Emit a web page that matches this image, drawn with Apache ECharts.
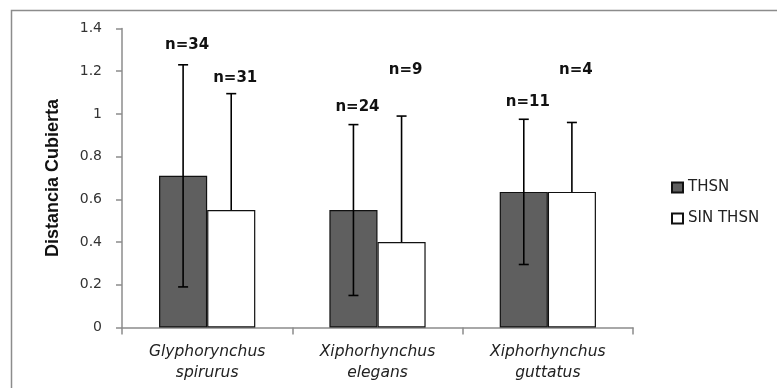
<!DOCTYPE html>
<html>
<head>
<meta charset="utf-8">
<script src="https://cdn.jsdelivr.net/npm/echarts@6/dist/echarts.min.js"></script>
<style>html,body{margin:0;padding:0;background:#fff;}#c{width:777px;height:388px;}</style>
</head>
<body>
<div id="c"></div>
<script>
var categories = ['Glyphorynchus\nspirurus', 'Xiphorhynchus\nelegans', 'Xiphorhynchus\nguttatus'];
var thsn = [0.71, 0.55, 0.635];
var sinThsn = [0.55, 0.40, 0.635];
var thsnErr = [0.52, 0.40, 0.34];
var sinThsnErr = [0.545, 0.59, 0.325];
var thsnN = ['n=34', 'n=24', 'n=11'];
var sinThsnN = ['n=31', 'n=9', 'n=4'];
var thsnLabelY = [1.32, 1.032, 1.056];
var sinThsnLabelY = [1.168, 1.205, 1.205];
var yTicks = [0, 0.2, 0.4, 0.6, 0.8, 1, 1.2, 1.4];

var GAP = 0.435;

function errItem(side, vals, errs, showMinus) {
  return function (params, api) {
    var i = api.value(0);
    var band = api.size([1, 0])[0];
    var bw = band * (1 - GAP) / 2;
    var c = api.coord([i, vals[i]]);
    var x = c[0] + side * bw / 2;
    var top = api.coord([i, vals[i] + errs[i]])[1];
    var bot = showMinus ? api.coord([i, vals[i] - errs[i]])[1] : c[1];
    var cap = 5;
    var st = { stroke: '#000', lineWidth: 1.6 };
    var children = [
      { type: 'line', shape: { x1: x, y1: top, x2: x, y2: bot }, style: st },
      { type: 'line', shape: { x1: x - cap, y1: top, x2: x + cap, y2: top }, style: st }
    ];
    if (showMinus) {
      children.push({ type: 'line', shape: { x1: x - cap, y1: bot, x2: x + cap, y2: bot }, style: st });
    }
    return { type: 'group', children: children };
  };
}

function labelItem(side, texts, ys) {
  return function (params, api) {
    var i = api.value(0);
    var band = api.size([1, 0])[0];
    var bw = band * (1 - GAP) / 2;
    var c = api.coord([i, ys[i]]);
    return {
      type: 'text',
      style: {
        x: c[0] + side * bw / 2 + 4, y: c[1],
        text: texts[i], align: 'center', verticalAlign: 'middle',
        font: 'bold 15px "DejaVu Sans", Verdana, sans-serif', fill: '#111'
      }
    };
  };
}

var idx = categories.map(function (_, i) { return [i, 0]; });

var chart = echarts.init(document.getElementById('c'), null, { renderer: 'canvas' });
chart.setOption({
  animation: false,
  backgroundColor: '#fff',
  graphic: [{
    type: 'rect', shape: { x: 11.5, y: 10.5, width: 800, height: 400 },
    style: { fill: 'none', stroke: '#8c8c8c', lineWidth: 1.5 }, silent: true, z: -1
  }],
  grid: { left: 122, top: 28.5, right: 144, bottom: 60.5, containLabel: false },
  legend: {
    orient: 'vertical', left: 666, top: 175, itemWidth: 11, itemHeight: 10, itemGap: 16,
    textStyle: { fontFamily: '"DejaVu Sans", Verdana, sans-serif', fontSize: 15, color: '#222' },
    data: [
      { name: 'THSN', icon: 'rect' },
      { name: 'SIN THSN', icon: 'rect' }
    ]
  },
  xAxis: {
    type: 'category', data: categories,
    axisLine: { lineStyle: { color: '#8c8c8c', width: 1.5 } },
    axisTick: { show: true, length: 7, lineStyle: { color: '#8c8c8c', width: 1.5 } },
    axisLabel: {
      fontFamily: '"DejaVu Sans", Verdana, sans-serif', fontStyle: 'italic', fontSize: 15.5,
      color: '#222', lineHeight: 21, margin: 14
    }
  },
  yAxis: {
    type: 'value', min: 0, max: 1.4, interval: 0.2,
    name: 'Distancia Cubierta', nameLocation: 'middle', nameGap: 60, nameRotate: 90,
    nameTextStyle: { fontFamily: '"Liberation Sans", Arial, sans-serif', fontWeight: 'bold', fontSize: 18, color: '#111' },
    axisLine: { show: true, lineStyle: { color: '#8c8c8c', width: 1.5 } },
    axisTick: { show: true, length: 6, lineStyle: { color: '#8c8c8c', width: 1.5 } },
    splitLine: { show: false },
    axisLabel: {
      fontFamily: '"DejaVu Sans", Verdana, sans-serif', fontSize: 14, color: '#333', margin: 20,
      formatter: function (v) {
        for (var k = 0; k < yTicks.length; k++) if (Math.abs(yTicks[k] - v) < 1e-6) return String(yTicks[k]);
        return '';
      }
    }
  },
  series: [
    {
      name: 'THSN', type: 'bar', data: thsn, barGap: '0%', barCategoryGap: (GAP * 100) + '%',
      itemStyle: { color: '#5f5f5f', borderColor: '#111', borderWidth: 1.2 }
    },
    {
      name: 'SIN THSN', type: 'bar', data: sinThsn, barGap: '0%', barCategoryGap: (GAP * 100) + '%',
      itemStyle: { color: '#fff', borderColor: '#111', borderWidth: 1.2 }
    },
    { type: 'custom', data: idx, renderItem: errItem(-1, thsn, thsnErr, true), z: 5 },
    { type: 'custom', data: idx, renderItem: errItem(1, sinThsn, sinThsnErr, false), z: 5 },
    { type: 'custom', data: idx, renderItem: labelItem(-1, thsnN, thsnLabelY), z: 6 },
    { type: 'custom', data: idx, renderItem: labelItem(1, sinThsnN, sinThsnLabelY), z: 6 }
  ]
});
</script>
</body>
</html>
